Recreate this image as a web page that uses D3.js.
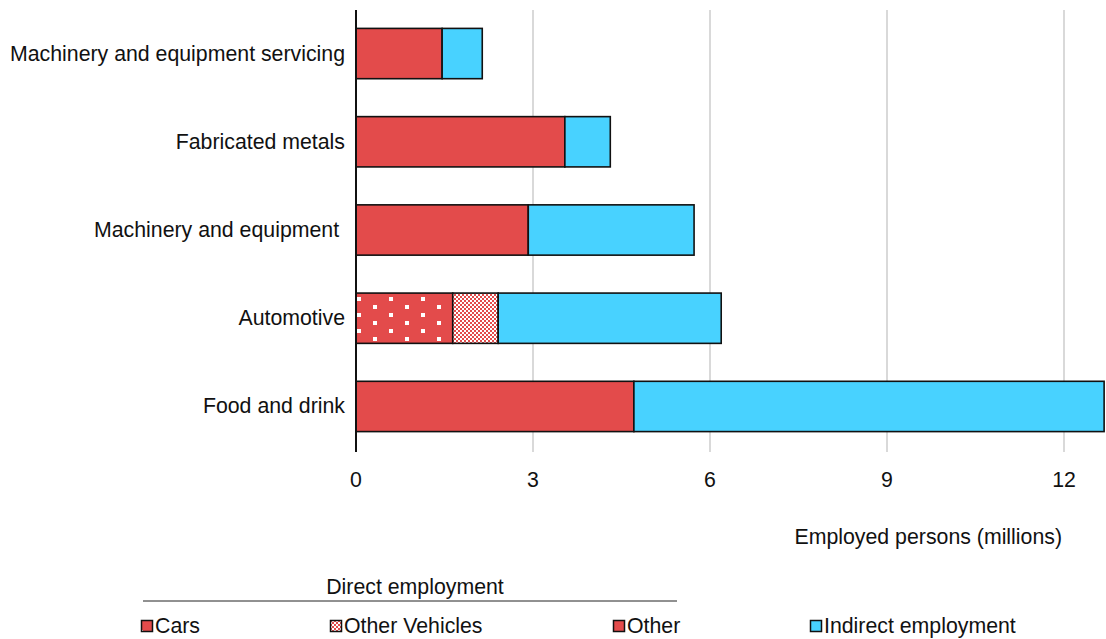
<!DOCTYPE html>
<html><head><meta charset="utf-8">
<script src="https://cdn.jsdelivr.net/npm/d3@7"></script>
<style>
body{margin:0;background:#fff;}
text{font-family:"Liberation Sans",Arial,sans-serif;fill:#111;}
</style></head>
<body><svg id="c" width="1106" height="639"></svg>
<script>
const categories = ["Machinery and equipment servicing","Fabricated metals","Machinery and equipment ","Automotive","Food and drink"];
const cars = [0, 0, 0, 1.64, 0];
const otherVehicles = [0, 0, 0, 0.77, 0];
const other = [1.46, 3.54, 2.92, 0, 4.71];
const indirect = [0.68, 0.77, 2.81, 3.78, 7.97];
const xTicks = [0, 3, 6, 9, 12];
const seriesNames = ["Cars","Other Vehicles","Other","Indirect employment"];

const RED = "#E34B4B", CYAN = "#48D2FF";
const FS = 21.3;
const svg = d3.select("#c");
const defs = svg.append("defs");
// dotted pattern for Cars
const pd = defs.append("pattern").attr("id","dots").attr("patternUnits","userSpaceOnUse")
  .attr("x",356).attr("y",296).attr("width",32).attr("height",16);
pd.append("rect").attr("width",32).attr("height",16).attr("fill",RED);
pd.append("rect").attr("x",1).attr("y",1).attr("width",4).attr("height",4).attr("fill","#fff");
pd.append("rect").attr("x",17).attr("y",9).attr("width",4).attr("height",4).attr("fill","#fff");
// checker for Other Vehicles
const pc = defs.append("pattern").attr("id","check").attr("patternUnits","userSpaceOnUse")
  .attr("width",4).attr("height",4);
pc.append("rect").attr("width",4).attr("height",4).attr("fill","#fff");
pc.append("rect").attr("width",2).attr("height",2).attr("fill",RED);
pc.append("rect").attr("x",2).attr("y",2).attr("width",2).attr("height",2).attr("fill",RED);
// legend swatch for cars
const pl = defs.append("pattern").attr("id","dotsL").attr("patternUnits","userSpaceOnUse")
  .attr("x",141).attr("y",620).attr("width",12).attr("height",12);
pl.append("rect").attr("width",12).attr("height",12).attr("fill",RED);
pl.append("rect").attr("x",2).attr("y",2).attr("width",3).attr("height",3).attr("fill","#fff");

const fills = ["url(#dots)","url(#check)",RED,CYAN];

const x = d3.scaleLinear().domain([0,12]).range([356,1064]);
const y = d3.scaleBand().domain(categories).range([9,451]).paddingInner(0.43).paddingOuter(0.22);

// gridlines
svg.append("g").selectAll("line").data(xTicks.filter(d=>d>0)).join("line")
  .attr("x1",d=>x(d)).attr("x2",d=>x(d)).attr("y1",10).attr("y2",452)
  .attr("stroke","#d9d9d9").attr("stroke-width",2);

// stacked data
const rows = categories.map((c,i)=>({cat:c, v:[cars[i],otherVehicles[i],other[i],indirect[i]]}));
const g = svg.append("g");
rows.forEach(r=>{
  let acc=0;
  r.v.forEach((v,k)=>{
    if(v>0){
      g.append("rect").attr("x",x(acc)).attr("y",y(r.cat)).attr("width",x(acc+v)-x(acc))
        .attr("height",y.bandwidth()).attr("fill",fills[k]).attr("stroke","#111").attr("stroke-width",1.6);
    }
    acc+=v;
  });
});

// y axis line
svg.append("line").attr("x1",356).attr("x2",356).attr("y1",10).attr("y2",452).attr("stroke","#111").attr("stroke-width",2);

// category labels
svg.append("g").selectAll("text").data(categories).join("text")
  .attr("x",345).attr("y",d=>y(d)+y.bandwidth()/2).attr("dy","0.33em")
  .attr("text-anchor","end").style("white-space","pre").attr("font-size",FS).text(d=>d);

// x tick labels
svg.append("g").selectAll("text").data(xTicks).join("text")
  .attr("x",d=>x(d)).attr("y",487).attr("text-anchor","middle").attr("font-size",FS).text(d=>d);

svg.append("text").attr("x",1062).attr("y",544).attr("text-anchor","end").attr("font-size",FS).text("Employed persons (millions)");

// legend
svg.append("text").attr("x",415).attr("y",594).attr("text-anchor","middle").attr("font-size",FS).text("Direct employment");
svg.append("line").attr("x1",143).attr("x2",677).attr("y1",601).attr("y2",601).attr("stroke","#222").attr("stroke-width",1);
const legX = [141,330,613,810];
const legFill = ["url(#dotsL)","url(#check)",RED,CYAN];
const lg = svg.append("g").selectAll("g").data(seriesNames).join("g")
  .attr("transform",(d,i)=>`translate(${legX[i]},620)`);
lg.append("rect").attr("x",0.5).attr("y",0.5).attr("width",11).attr("height",11)
  .attr("fill",(d,i)=>legFill[i]).attr("stroke","#111").attr("stroke-width",1.5);
lg.append("text").attr("x",14).attr("y",6).attr("dy","0.35em").attr("font-size",FS).text(d=>d);
</script></body></html>
